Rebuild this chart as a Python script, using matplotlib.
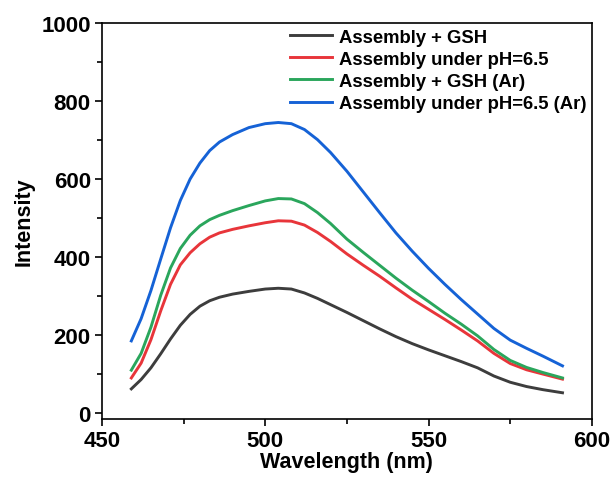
import matplotlib
matplotlib.use("Agg")
import matplotlib.pyplot as plt
from matplotlib.ticker import MultipleLocator

# Emission spectra
wavelength = [459, 462, 465, 468, 471, 474, 477, 480, 483, 486, 490, 495, 500, 504,
              508, 512, 516, 520, 525, 530, 535, 540, 545, 550, 555, 560, 565, 570,
              575, 580, 585, 591]
gsh = [62, 86, 116, 152, 190, 225, 253, 274, 288, 297, 305, 312, 318, 320,
       318, 308, 294, 278, 258, 237, 216, 196, 178, 162, 147, 132, 116, 95,
       79, 68, 60, 52]
ph65 = [90, 128, 188, 262, 330, 380, 411, 434, 451, 462, 471, 480, 488, 493,
        492, 482, 463, 440, 408, 379, 351, 321, 292, 266, 240, 213, 185, 153,
        127, 111, 100, 87]
gsh_ar = [110, 153, 220, 302, 372, 422, 456, 480, 496, 507, 519, 532, 544, 550,
          549, 537, 514, 486, 446, 412, 379, 346, 315, 286, 256, 228, 198, 163,
          135, 117, 104, 90]
ph65_ar = [185, 242, 314, 395, 475, 545, 600, 641, 673, 695, 714, 732, 742, 745,
           742, 727, 701, 668, 620, 567, 514, 462, 415, 371, 330, 291, 254, 217,
           187, 166, 146, 121]

series = [
    (gsh, "Assembly + GSH", "#3d3d3d"),
    (ph65, "Assembly under pH=6.5", "#e8353a"),
    (gsh_ar, "Assembly + GSH (Ar)", "#2aa65c"),
    (ph65_ar, "Assembly under pH=6.5 (Ar)", "#1562d6"),
]

plt.rcParams["font.family"] = ["Liberation Sans", "DejaVu Sans"]
plt.rcParams["font.weight"] = "bold"

fig = plt.figure(figsize=(6.14, 4.81), dpi=100)
ax = fig.add_axes([0.166, 0.127, 0.798, 0.823])

for y, label, color in series:
    ax.plot(wavelength, y, color=color, lw=2.1, label=label,
            solid_joinstyle="round")

ax.set_xlim(450, 600)
ax.set_ylim(-15, 1000)
ax.xaxis.set_major_locator(MultipleLocator(50))
ax.xaxis.set_minor_locator(MultipleLocator(25))
ax.yaxis.set_major_locator(MultipleLocator(200))
ax.yaxis.set_minor_locator(MultipleLocator(100))
ax.tick_params(which="major", direction="out", length=5, width=1.2,
               labelsize=16, pad=3)
ax.tick_params(which="minor", direction="out", length=3.5, width=1.2)
for lab in ax.get_xticklabels() + ax.get_yticklabels():
    lab.set_fontweight("bold")
for sp in ax.spines.values():
    sp.set_linewidth(1.2)

ax.set_xlabel("Wavelength (nm)", fontsize=15.5, fontweight="bold", labelpad=0)
ax.set_ylabel("Intensity", fontsize=15.5, fontweight="bold", labelpad=5)

ax.legend(loc="upper right", bbox_to_anchor=(1.0, 1.0), frameon=False,
          prop={"weight": "bold", "size": 13.3},
          handlelength=2.3, handletextpad=0.35, labelspacing=0.28,
          borderaxespad=0.1, borderpad=0.2)

fig.savefig("out.png", dpi=100)
